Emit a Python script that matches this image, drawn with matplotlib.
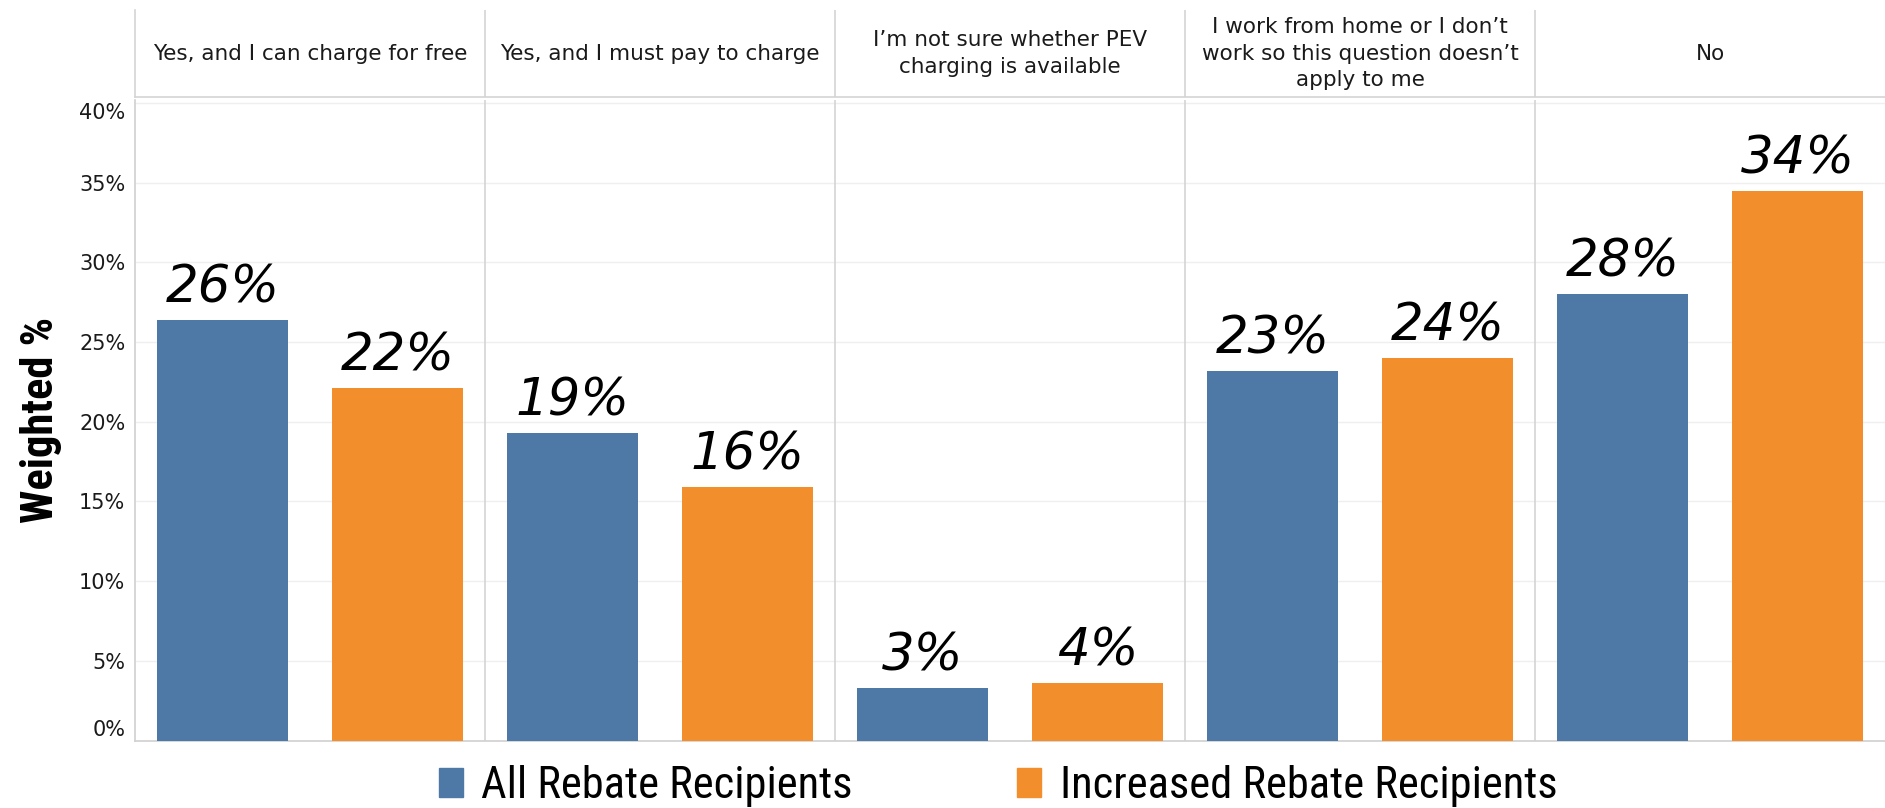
import matplotlib
matplotlib.use("Agg")
import matplotlib.pyplot as plt
from matplotlib import font_manager as fm
import numpy as np

categories = [
    "Yes, and I can charge for free",
    "Yes, and I must pay to charge",
    "I\u2019m not sure whether PEV\ncharging is available",
    "I work from home or I don\u2019t\nwork so this question doesn\u2019t\napply to me",
    "No",
]
series_names = ["All Rebate Recipients", "Increased Rebate Recipients"]
all_recipients = [26.4, 19.3, 3.3, 23.2, 28.0]
increased_recipients = [22.1, 15.9, 3.6, 24.0, 34.5]
all_labels = ["26%", "19%", "3%", "23%", "28%"]
inc_labels = ["22%", "16%", "4%", "24%", "34%"]
yticks = [0, 5, 10, 15, 20, 25, 30, 35, 40]

BLUE = "#4e79a7"
ORANGE = "#f28e2b"

avail = {f.name for f in fm.fontManager.ttflist}
def pick(cands, default="DejaVu Sans"):
    for c in cands:
        if c in avail:
            return c
    return default

narrow = pick(["Liberation Sans Narrow", "DejaVu Sans Condensed", "Roboto Condensed", "Open Sans Condensed"], "Liberation Sans")
body = "DejaVu Sans"

W, H = 1885, 808
fig = plt.figure(figsize=(W / 100, H / 100), dpi=100)

def fx(x): return x / W
def fy(y): return 1 - y / H

# main axes
y0px, ytoppx = 740.5, 100
ax = fig.add_axes([fx(135), fy(y0px), fx(W) - fx(135), fy(ytoppx) - fy(y0px)])
px_per_pct = 79.7 / 5
ymax = (y0px - ytoppx) / px_per_pct
n = len(categories)
ax.set_xlim(0, n)
ax.set_ylim(0, ymax)

bw = 0.375
xb = np.arange(n) + 0.25
xo = np.arange(n) + 0.75
ax.bar(xb, all_recipients, width=bw, color=BLUE, zorder=3)
ax.bar(xo, increased_recipients, width=bw, color=ORANGE, zorder=3)

for x, v, lab in zip(xb, all_recipients, all_labels):
    ax.text(x, v + 0.4, lab, ha="center", va="bottom", fontsize=37,
            style="italic", family="DejaVu Sans", color="black", zorder=4)
for x, v, lab in zip(xo, increased_recipients, inc_labels):
    ax.text(x, v + 0.4, lab, ha="center", va="bottom", fontsize=37,
            style="italic", family="DejaVu Sans", color="black", zorder=4)

for t in yticks:
    ax.axhline(t, color="#efefef", lw=1, zorder=1)
for i in range(1, n):
    ax.axvline(i, color="#d4d4d4", lw=1.2, zorder=2)

ax.set_yticks(yticks)
ax.set_yticklabels([f"{t}%" for t in yticks], fontsize=15, family=body, color="#1a1a1a")
labs = ax.get_yticklabels()
labs[0].set_verticalalignment("bottom")
labs[-1].set_verticalalignment("top")
ax.set_xticks([])
ax.tick_params(axis="y", length=0, pad=7)
for s in ["top", "right"]:
    ax.spines[s].set_visible(False)
for s in ["left", "bottom"]:
    ax.spines[s].set_color("#d0d0d0")
    ax.spines[s].set_linewidth(1.2)

ax.set_ylabel("Weighted %", fontsize=32, fontweight="bold", family=narrow, labelpad=12)

# header axes
hax = fig.add_axes([fx(135), fy(97), fx(W) - fx(135), fy(10) - fy(97)])
hax.set_xlim(0, n)
hax.set_ylim(0, 1)
hax.set_xticks([])
hax.set_yticks([])
for s in ["top", "right"]:
    hax.spines[s].set_visible(False)
for s in ["left", "bottom"]:
    hax.spines[s].set_color("#d4d4d4")
    hax.spines[s].set_linewidth(1.2)
for i in range(1, n):
    hax.axvline(i, color="#d4d4d4", lw=1.2)
for i, c in enumerate(categories):
    hax.text(i + 0.5, 0.5, c, ha="center", va="center", fontsize=15.5,
             family=body, color="#1a1a1a", linespacing=1.4)

# legend
handles = [plt.Rectangle((0, 0), 1, 1, color=BLUE), plt.Rectangle((0, 0), 1, 1, color=ORANGE)]
fig.legend(handles, series_names, loc="center", bbox_to_anchor=(fx(998), fy(786)),
           ncol=2, frameon=False, prop={"family": narrow, "size": 32},
           handlelength=0.54, handleheight=0.65, handletextpad=0.42, columnspacing=3.7,
           borderpad=0.1)

fig.savefig("out.png", dpi=100)
